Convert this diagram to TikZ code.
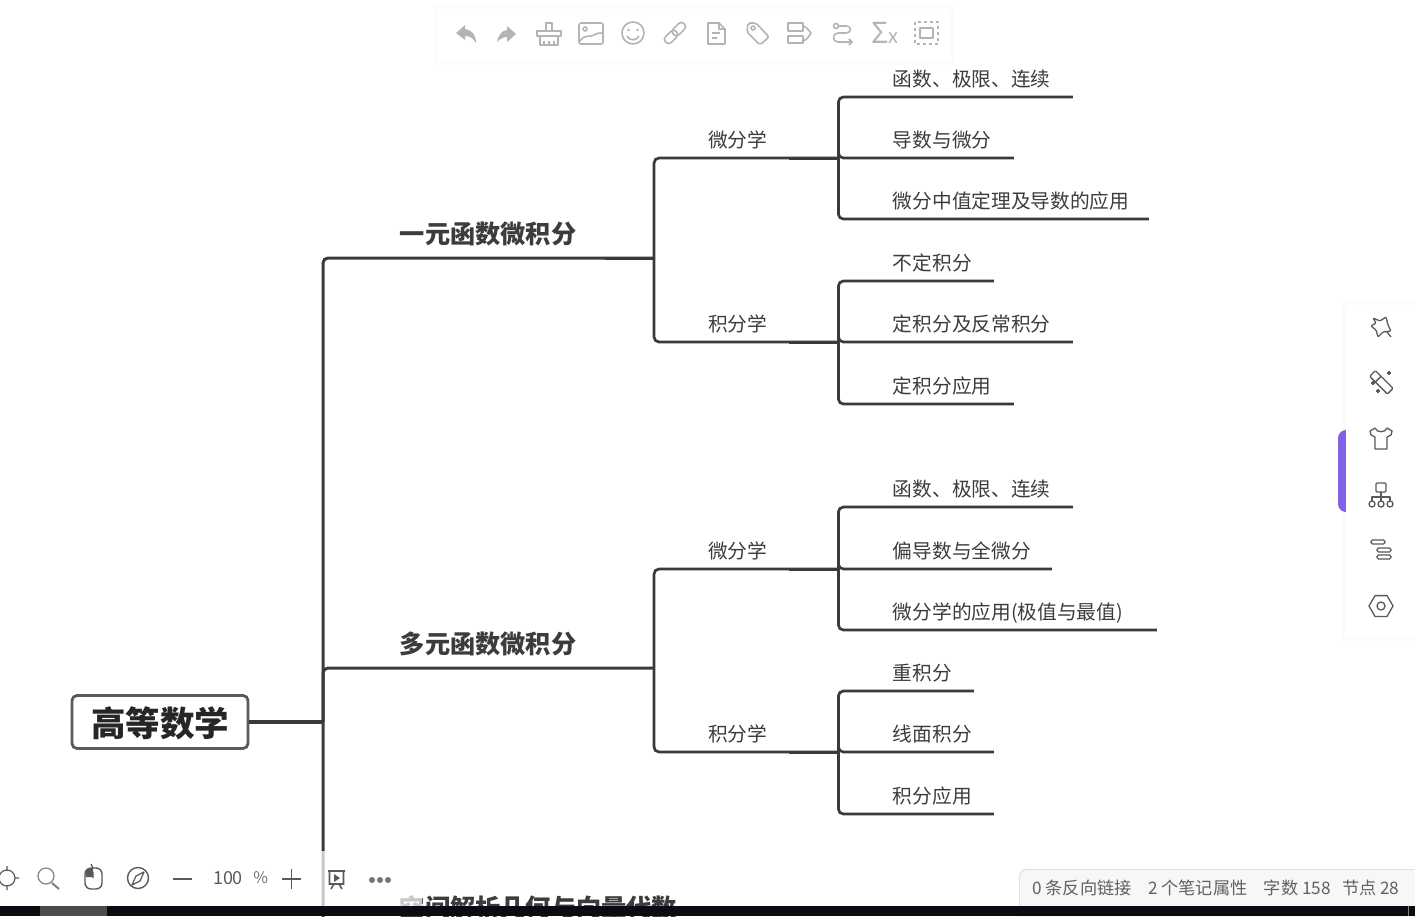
\documentclass[tikz,border=0pt]{standalone}
\usepackage{fontspec}
\setmainfont{Noto Sans CJK SC}
\usetikzlibrary{
arrows.meta,
positioning,
shapes.geometric
}
\tikzset{>=latex}
\definecolor{linkdark}{HTML}{3A3A3A}
\definecolor{textdark}{HTML}{3C3C3C}
\definecolor{icongray}{HTML}{B4B4B4}
\definecolor{iconbar}{HTML}{5A5A5A}
\definecolor{tabpurple}{HTML}{8560E4}
\definecolor{bandblack}{HTML}{0A0C12}
\definecolor{statusbg}{HTML}{F7F7F7}

\begin{document}
\begin{tikzpicture}[x=1pt, y=-1pt, font=\fontsize{19.7pt}{20pt}\selectfont,
	link/.style={draw=linkdark, line width=2.7pt, rounded corners=5pt},
	leaf/.style={text width=#1, align=left, inner xsep=0pt, inner ysep=0pt, text height=17pt, text depth=10.4pt, text=textdark},
	major/.style={leaf=#1, font=\fontsize{25.2pt}{26pt}\selectfont\bfseries, text height=24pt, text depth=14pt},
	topicon/.style={draw=icongray, line width=1.6pt, line join=round},
	sideicon/.style={draw=iconbar, line width=1.3pt, line join=round},
	status/.style={text=black!62, font=\fontsize{17.2pt}{18pt}\selectfont, inner sep=0pt}]
	\useasboundingbox (0,0) rectangle (1415,916);
	
	% the map
	\node[draw=iconbar, line width=2.8pt, rounded corners=5pt, minimum width=176pt, minimum height=53pt, inner sep=0pt, text height=30pt, text depth=2pt, font=\fontsize{34.5pt}{35pt}\selectfont\bfseries, text=black!85] (root) at (160,722) {高等数学};
	\coordinate[right=73.6pt of root.east] (trunk);
	
	\node[major=254pt, above right=464pt and 76.6pt of trunk] (yiyuan) {一元函数微积分};
	\node[major=254pt, above right=54pt and 76.6pt of trunk] (duoyuan) {多元函数微积分};
	\node[major=277pt, below right=210pt and 76.6pt of trunk, anchor=south west] (kongjian) {空间解析几何与向量代数};
	
	\node[leaf=130pt, above right=100pt and 54pt of yiyuan.south east] (weifen)  {微分学};
	\node[leaf=130pt, below right=84pt and 54pt of yiyuan.south east, anchor=south west] (jifen) {积分学};
	\node[leaf=130pt, above right=99pt and 54pt of duoyuan.south east] (duowei)  {微分学};
	\node[leaf=130pt, below right=84pt and 54pt of duoyuan.south east, anchor=south west] (duoji) {积分学};
	
	\node[leaf=179.7pt, above right=61pt and 54.3pt of weifen.south east]                  (hanshu)   {函数、极限、连续};
	\node[leaf=120.7pt, right=54.3pt of weifen.south east, anchor=south west]              (daoshu)   {导数与微分};
	\node[leaf=255.7pt, below right=61pt and 54.3pt of weifen.south east, anchor=south west] (zhongzhi) {微分中值定理及导数的应用};
	
	\node[leaf=100.7pt, above right=61pt and 54.3pt of jifen.south east]                   (budingji) {不定积分};
	\node[leaf=179.7pt, right=54.3pt of jifen.south east, anchor=south west]               (dingji)   {定积分及反常积分};
	\node[leaf=120.7pt, below right=62pt and 54.3pt of jifen.south east, anchor=south west] (jiyong)  {定积分应用};
	
	\node[leaf=179.7pt, above right=62pt and 54.3pt of duowei.south east]                  (duohan)   {函数、极限、连续};
	\node[leaf=158.7pt, right=54.3pt of duowei.south east, anchor=south west]              (piandao)  {偏导数与全微分};
	\node[leaf=263.7pt, below right=61pt and 54.3pt of duowei.south east, anchor=south west] (zuizhi) {微分学的应用(极值与最值)};
	
	\node[leaf=80.7pt, above right=61pt and 54.3pt of duoji.south east]                    (chongji)  {重积分};
	\node[leaf=100.7pt, right=54.3pt of duoji.south east, anchor=south west]               (xianmian) {线面积分};
	\node[leaf=100.7pt, below right=62pt and 54.3pt of duoji.south east, anchor=south west] (jifenyong) {积分应用};
	
	\draw[link, line width=3.2pt] (root) -- (trunk);
	\foreach \sub in {yiyuan, duoyuan, kongjian}
		\draw[link, line width=3pt] (trunk) |- (\sub.south east);
	
	\foreach \hub/\sub in {yiyuan/weifen, yiyuan/jifen, duoyuan/duowei, duoyuan/duoji}
		\draw[link] (\hub.south east) |- (\sub.south east);
	\foreach \hub/\sub in {weifen/hanshu, weifen/daoshu, weifen/zhongzhi,
		jifen/budingji, jifen/dingji, jifen/jiyong,
		duowei/duohan, duowei/piandao, duowei/zuizhi,
		duoji/chongji, duoji/xianmian, duoji/jifenyong}
		\draw[link] (\hub.south east) |- (\sub.south east);
	
	% heavier stretch where the next level starts
	\foreach \hub in {yiyuan, weifen, jifen, duowei, duoji}
		\draw[link, line width=3pt] ([xshift=-49pt]\hub.south east) -- (\hub.south east);
	
	% window frame
	\fill[white, opacity=0.72] (0,851) rectangle (422,906);
	\fill[bandblack] (0,906) rectangle (1415,916);
	\fill[black!70] (40,906) rectangle (107,916);
	
	% top toolbar
	\fill[black!1] (434,5) rectangle (954,65);
	\fill[white] (438,9) rectangle (950,61);
	\fill[icongray] (456,33) -- (465,25) -- (465,29) .. controls (472,30) and (476,35) .. (476,43) .. controls (473,38) and (470,36) .. (465,36) -- (465,40) -- cycle;
	\fill[icongray] (516,34) -- (507,26) -- (507,30) .. controls (502,30) and (498,36) .. (497,42) .. controls (500,39) and (503,37) .. (507,37) -- (507,42) -- cycle;
	\draw[topicon] (537,31) rectangle (561,36) (540,36) rectangle (558,45) (546,31) -- (546,23) -- (552,23) -- (552,31) (544,45) -- (544,41) (549,45) -- (549,41) (554,45) -- (554,41);
	\draw[topicon, rounded corners=2pt] (579,23) rectangle (603,44);
	\draw[topicon] (585,29) circle (2pt) (580,41) .. controls (586,33) and (590,38) .. (594,35) .. controls (597,33) and (600,33) .. (602,33);
	\draw[topicon] (633,33) circle (11pt) (627,36) .. controls (629,41) and (637,41) .. (639,36);
	\fill[icongray] (628.5,30) circle (1.3pt) (637.5,30) circle (1.3pt);
	\draw[topicon, rounded corners=3.5pt, rotate around={45:(675,33)}] (662,29) rectangle (677,37) (673,29) rectangle (688,37);
	\draw[topicon, line join=round] (708,23) -- (719,23) -- (725,29) -- (725,44) -- (708,44) -- cycle (719,23) -- (719,29) -- (725,29) (712,33) -- (720,33) (712,38) -- (717,38);
	\draw[topicon, rounded corners=2pt] (748,23) -- (756,23) -- (769,37) -- (760,45) -- (747,32) -- cycle;
	\draw[topicon] (753,28) circle (2pt);
	\draw[topicon] (788,23) rectangle (803,31) (788,36) rectangle (803,43);
	\draw[topicon] (803,26) .. controls (807,27) and (809,31) .. (811,33) .. controls (809,36) and (807,40) .. (803,41);
	\draw[topicon] (836,26) circle (2.5pt) (839,26) -- (846,26) .. controls (852,26) and (852,33) .. (846,33) -- (838,33) .. controls (832,33) and (832,42) .. (838,42) -- (852,42);
	\draw[topicon, -{Straight Barb[length=3pt,width=6pt]}] (848,42) -- (853,42);
	\node[text=icongray, inner sep=0pt, font=\fontsize{29pt}{29pt}\selectfont] (sigma) at (880,33) {Σ};
	\node[text=icongray, inner sep=0pt, font=\fontsize{20pt}{20pt}\selectfont, right=-1pt of sigma.south east, anchor=south west] (sigmax) {x};
	\draw[topicon, line width=2pt, dash pattern=on 3pt off 3pt] (915,22) rectangle (938,44);
	\draw[topicon] (920,28) rectangle (933,38);
	
	% side panel
	\fill[black!1] (1342,301) -- (1415,301) -- (1415,641) -- (1342,641) -- cycle;
	\fill[tabpurple, rounded corners=8pt] (1338,430) rectangle (1360,512);
	\fill[white] (1346,305) rectangle (1415,637);
	\draw[sideicon, rounded corners=1pt] (1373,318) -- (1380,321) -- (1386,317) -- (1388,325) -- (1391,331) -- (1383,332) -- (1378,337) -- (1376,330) -- (1371,326) -- (1376,323) -- cycle (1387,332) -- (1391,337);
	\draw[sideicon, rounded corners=1pt, rotate around={-45:(1381,382)}] (1369,378) rectangle (1394,386) (1377,378) -- (1377,386);
	\draw[sideicon] (1387,373) -- (1391,373) (1389,371) -- (1389,375) (1371,383) -- (1375,383) (1373,381) -- (1373,385) (1376,391) -- (1380,391) (1378,389) -- (1378,393);
	\draw[sideicon, line join=round] (1375,428) -- (1370,431) -- (1371,435) -- (1375,437) -- (1375,449) -- (1387,449) -- (1387,437) -- (1391,435) -- (1392,431) -- (1387,428) .. controls (1385,433) and (1377,433) .. (1375,428);
	\draw[sideicon, rounded corners=1pt] (1376,483) rectangle (1386,492);
	\draw[sideicon] (1381,492) -- (1381,497) (1372,501) -- (1372,497) -- (1390,497) -- (1390,501) (1381,497) -- (1381,501);
	\draw[sideicon] (1372,504) circle (3pt) (1381,504) circle (3pt) (1390,504) circle (3pt);
	\draw[sideicon, rounded corners=1.5pt] (1371,540) rectangle (1385,544) (1377,548) rectangle (1391,552) (1377,555) rectangle (1391,559);
	\node[sideicon, regular polygon, regular polygon sides=6, minimum size=24pt, inner sep=0pt] (hexa) at (1381,606) {};
	\draw[sideicon] (hexa.center) circle (4pt);
	
	% bottom toolbar
	\draw[draw=iconbar, line width=1.2pt] (7,878) circle (8pt) (7,866) -- (7,871) (7,885) -- (7,890) (15,878) -- (19,878);
	\draw[draw=black!50, line width=1.2pt] (46,876) circle (8pt);
	\draw[draw=black!50, line width=2pt] (52,883) -- (59,889);
	\draw[draw=iconbar, line width=1.4pt, rounded corners=6pt] (85,868) rectangle (102,889);
	\fill[iconbar] (85.5,877) -- (85.5,873) arc[start angle=180, end angle=90, radius=5pt] -- (93,868) -- (93,877) -- cycle;
	\draw[draw=iconbar, line width=1.2pt] (93,872) -- (93,878) (93,868) -- (91,864);
	\draw[draw=iconbar, line width=1.4pt] (138,878) circle (10.5pt);
	\draw[draw=iconbar, line width=1.2pt, line join=round] (144,872) -- (140,881) -- (132,885) -- (136,876) -- cycle;
	\draw[draw=iconbar, line width=1.5pt] (173,879) -- (192,879) (282,879) -- (301,879) (291.5,869) -- (291.5,889);
	\node[status, text=iconbar, font=\fontsize{18pt}{18pt}\selectfont] (zoomval) at (228,878) {100};
	\node[status, text=black!55, font=\fontsize{16pt}{16pt}\selectfont, right=10pt of zoomval] (zoompct) {\%};
	\draw[draw=iconbar, line width=1.6pt] (328,871) -- (345,871) (329.5,871) rectangle (343.5,884) (331,889) -- (334,884) (342,889) -- (339,884);
	\fill[iconbar] (334,874) -- (340,878) -- (334,882) -- cycle;
	\fill[black!55] (372,880) circle (3pt) (380,880) circle (3pt) (388,880) circle (3pt);
	
	% status bar
	\fill[black!12, rounded corners=7pt] (1019,869) rectangle (1430,920);
	\fill[statusbg, rounded corners=7pt] (1020,870) rectangle (1430,920);
	\fill[bandblack] (1019,906) rectangle (1415,916);
	\node[status, anchor=west] (backlink) at (1032,888) {0 条反向链接};
	\node[status, right=16pt of backlink] (noteattr) {2 个笔记属性};
	\node[status, right=16pt of noteattr] (wordcount) {字数 158};
	\node[status, right=11pt of wordcount] (nodecount) {节点 28};
	\draw[black!50, line width=0.8pt] (1408,906) -- (1408,916);
\end{tikzpicture}
\end{document}
